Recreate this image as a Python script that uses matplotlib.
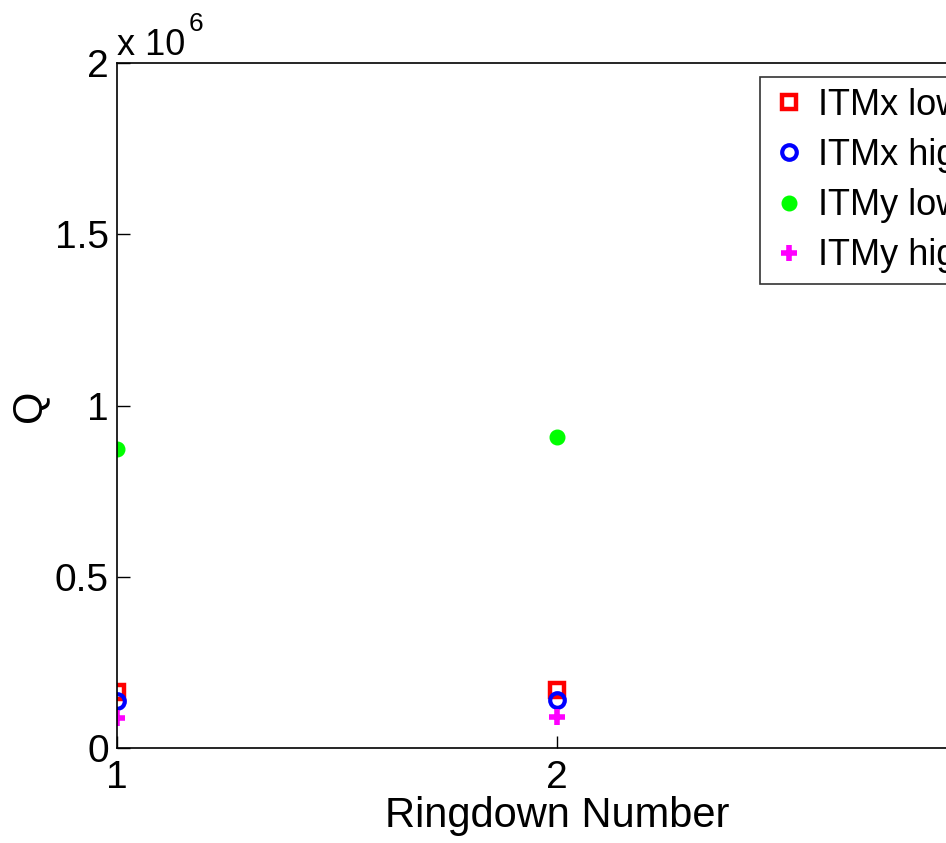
import matplotlib
matplotlib.use('Agg')
import matplotlib.pyplot as plt

plt.rcParams['font.family'] = ['Liberation Sans', 'DejaVu Sans']

ringdown = [1, 2]
itmx_low = [0.163e6, 0.168e6]
itmx_high = [0.138e6, 0.140e6]
itmy_low = [0.872e6, 0.909e6]
itmy_high = [0.087e6, 0.091e6]
labels = ['ITMx low', 'ITMx high', 'ITMy low', 'ITMy high']

fig = plt.figure(figsize=(9.46, 8.43), dpi=100)
# axes runs past the right edge of the figure
ax = fig.add_axes([117 / 946, 95 / 843, 880 / 946, 685 / 843])

ax.plot(ringdown, itmx_low, 's', ms=10.5, mfc='none', mec='red', mew=3.2, label=labels[0])
ax.plot(ringdown, itmx_high, 'o', ms=10.5, mfc='none', mec='blue', mew=3, label=labels[1])
ax.plot(ringdown, itmy_low, 'o', ms=10.5, mfc='#00ff00', mec='#00ff00', label=labels[2])
ax.plot(ringdown, itmy_high, '+', ms=11, mec='magenta', mew=4, label=labels[3])

ax.set_xlim(1, 3)
ax.set_ylim(0, 2e6)
ax.set_xticks([1, 2, 3])
ax.set_xticklabels(['1', '2', '3'])
ax.set_yticks([0, 0.5e6, 1e6, 1.5e6, 2e6])
ax.set_yticklabels(['0', '0.5', '1', '1.5', '2'])
ax.tick_params(direction='in', length=9, width=1, labelsize=28, pad=6)
ax.tick_params(axis='x', pad=9)
for s in ax.spines.values():
    s.set_linewidth(1.2)

# exponent for the y axis
ax.text(0.0, 1 + 8 / 685, 'x 10', transform=ax.transAxes, fontsize=26,
        ha='left', va='baseline')
ax.text(0.081, 1 + 32 / 685, '6', transform=ax.transAxes, fontsize=19,
        ha='left', va='baseline')

ax.set_xlabel('Ringdown Number', fontsize=30, labelpad=0)
ax.set_ylabel('Q', fontsize=30, labelpad=4)

leg = ax.legend(loc='upper left', bbox_to_anchor=(643 / 880, 671 / 685), fontsize=26,
                frameon=True, fancybox=False, edgecolor='black', handlelength=1.0,
                handletextpad=0.3, borderpad=0.3, borderaxespad=0, labelspacing=0.42,
                numpoints=1)
leg.get_frame().set_linewidth(1.2)

fig.savefig('out.png', dpi=100)
